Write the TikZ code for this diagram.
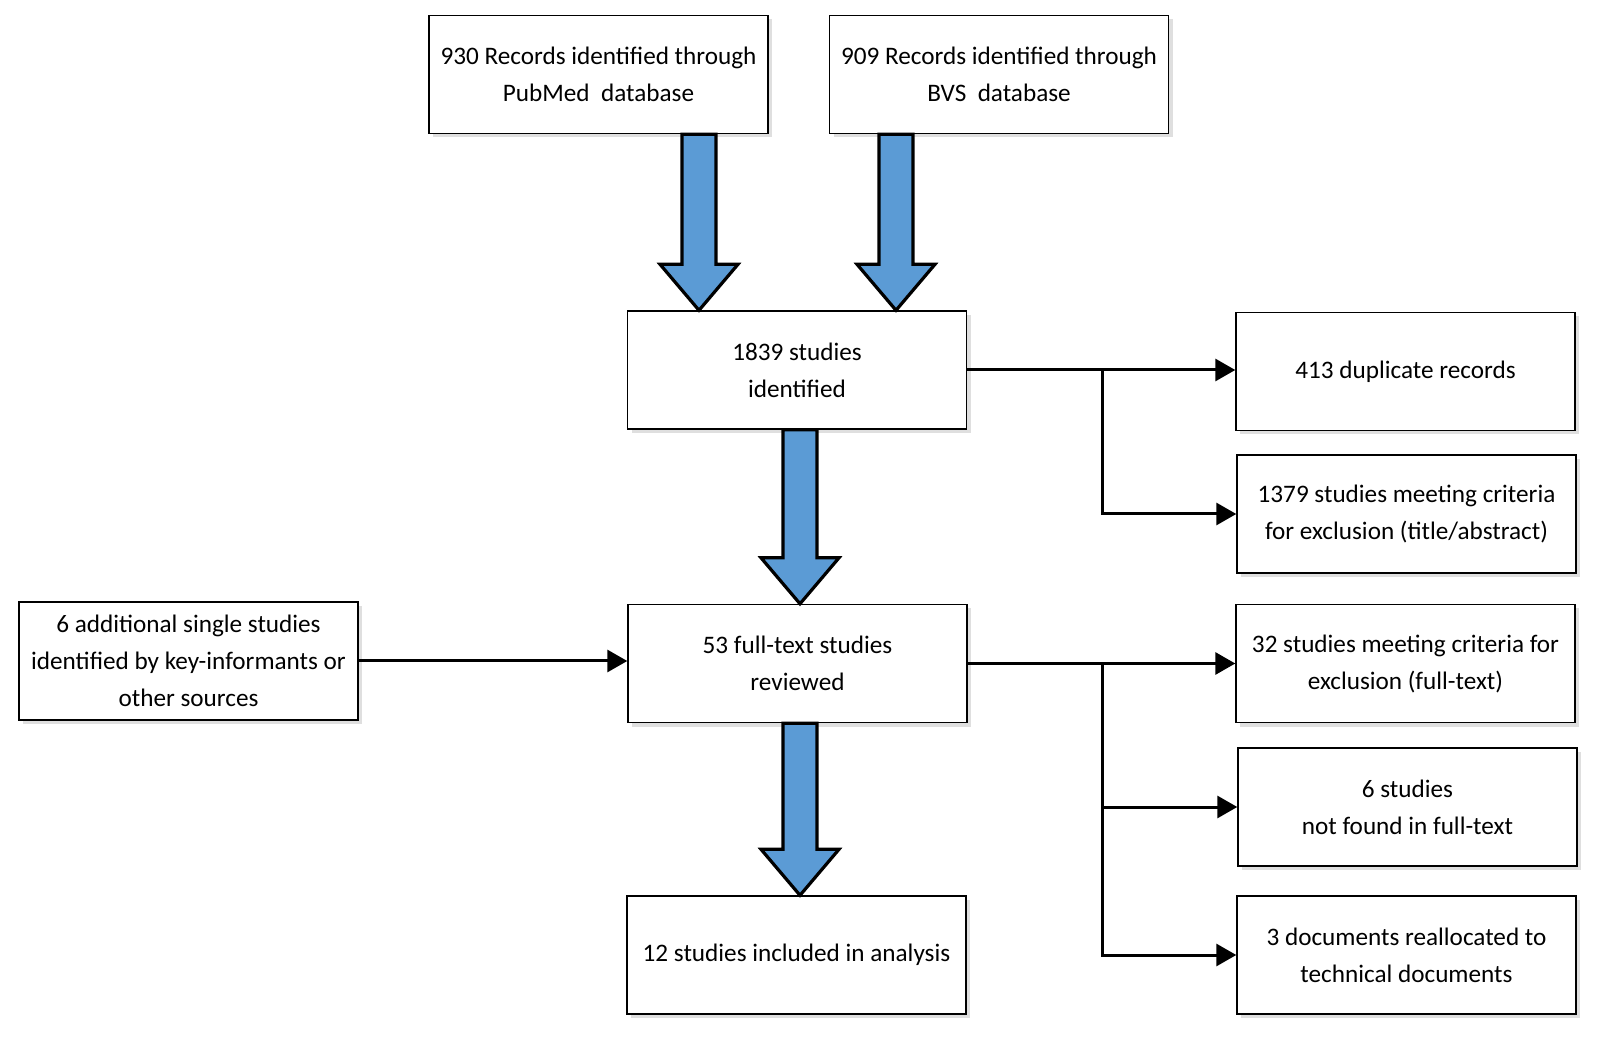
\documentclass[tikz,border=0pt]{standalone}
\usepackage{fontspec}
\setmainfont{Carlito}
\usetikzlibrary{arrows.meta,calc,shadows}
\definecolor{arrowblue}{RGB}{91,155,213}
\tikzset{
  flowbox/.style={draw, line width=0.7pt, fill=white, minimum width=169.5pt, minimum height=59pt,
    align=center, inner sep=2pt, font=\fontsize{12.6}{18.5}\selectfont,
    drop shadow={shadow xshift=2pt, shadow yshift=-2pt, fill=black!25}},
  conn/.style={line width=1.5pt, -{Triangle[length=10pt,width=11pt]}},
  bigarrow/.style={draw, line width=1.6pt, fill=arrowblue, line join=miter}
}
\newcommand{\blockarrow}[2]{%
  % #1 = start of shaft, #2 = tip
  \draw[bigarrow] let \p1=#1, \p2=#2 in
    (\x1-8.5pt,\y1) -- (\x1-8.5pt,\y2+23pt) -- (\x1-19.5pt,\y2+23pt) -- (\x1,\y2)
    -- (\x1+19.5pt,\y2+23pt) -- (\x1+8.5pt,\y2+23pt) -- (\x1+8.5pt,\y1) -- cycle;
}

\begin{document}
\begin{tikzpicture}[x=0.5pt, y=-0.5pt]
\useasboundingbox (0,0) rectangle (1597,1037);

% ============ SOURCES ============
\node[flowbox] (pubmed) at (598.5,74.5) {930 Records identified through\\PubMed~~database};
\node[flowbox] (bvs) at (999,74.5) {909 Records identified through\\BVS~~database};

% ============ MAIN COLUMN ============
\node[flowbox] (ident) at (797,370) {1839 studies\\identified};
\node[flowbox] (full) at (797.5,663.5) {53 full-text studies\\reviewed};
\node[flowbox] (incl) at (796.5,955) {12 studies included in analysis};
\node[flowbox] (extra) at (188.5,661) {6 additional single studies\\identified by key-informants or\\other sources};

% ============ EXCLUSIONS ============
\node[flowbox] (dup) at (1405.5,371.5) {413 duplicate records};
\node[flowbox] (excla) at (1406.5,514) {1379 studies meeting criteria\\for exclusion (title/abstract)};
\node[flowbox] (exclb) at (1405.5,663.5) {32 studies meeting criteria for\\exclusion (full-text)};
\node[flowbox] (notfound) at (1407.5,807) {6 studies\\not found in full-text};
\node[flowbox] (realloc) at (1406.5,955) {3 documents reallocated to\\technical documents};

% ---- block arrows down the main column ----
\blockarrow{(pubmed.south -| 699,0)}{(ident.north -| 699,0)}
\blockarrow{(bvs.south -| 896,0)}{(ident.north -| 896,0)}
\blockarrow{(ident.south -| 800,0)}{(full.north -| 800,0)}
\blockarrow{(full.south -| 800,0)}{(incl.north -| 800,0)}

% ---- side connectors ----
\coordinate (split) at (1102,0);
\draw[conn] (ident.east) -- (ident.east -| dup.west);
\draw[conn] (ident.east -| split) |- (excla.west);
\draw[conn] (extra.east) -- (extra.east -| full.west);
\draw[conn] (full.east) -- (full.east -| exclb.west);
\draw[conn] (full.east -| split) |- (notfound.west);
\draw[conn] (full.east -| split) |- (realloc.west);
\end{tikzpicture}
\end{document}
